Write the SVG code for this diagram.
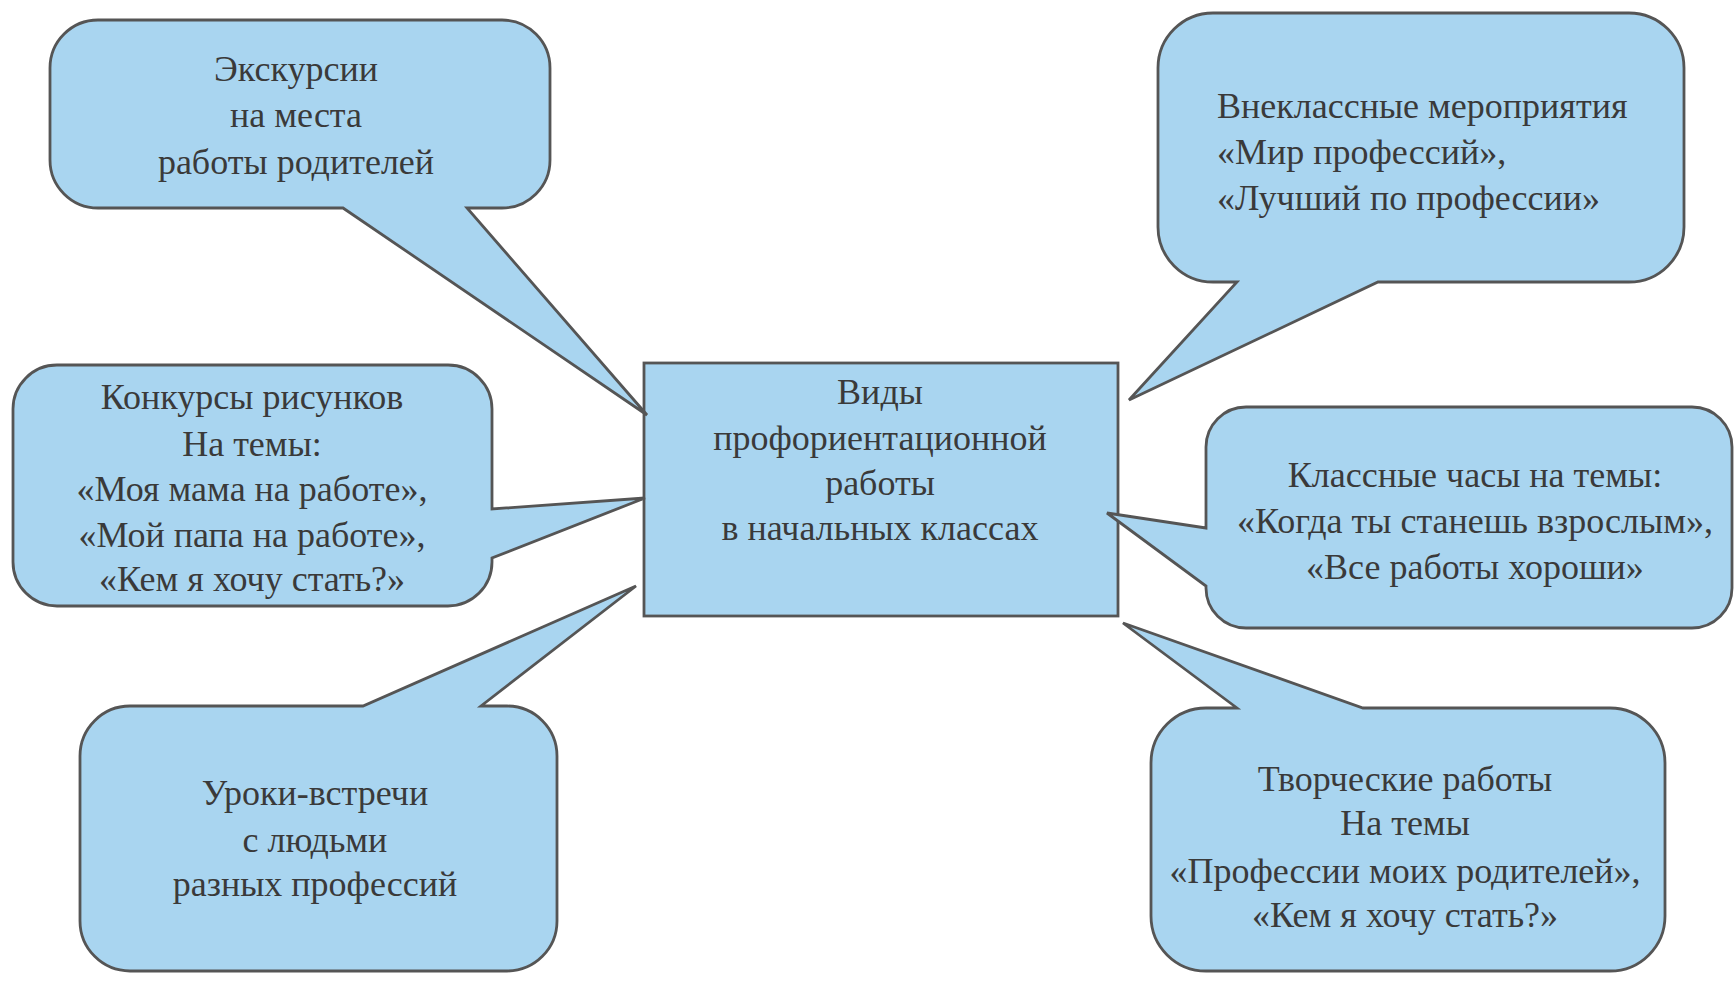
<svg xmlns="http://www.w3.org/2000/svg" width="1735" height="985" viewBox="0 0 1735 985">
<style>
.shape{fill:#a9d5f0;stroke:#555;stroke-width:2.8;stroke-linejoin:miter}
.t{font-family:"Liberation Serif","Times New Roman",serif;font-size:36px;fill:#3a3a3a}
.c{text-anchor:middle}
</style>
<rect width="1735" height="985" fill="#ffffff"/>
<g id="center">
<rect class="shape" x="644" y="363" width="474" height="253"/>
<text class="t c" x="880" y="404">Виды</text>
<text class="t c" x="880" y="450">профориентационной</text>
<text class="t c" x="880" y="495">работы</text>
<text class="t c" x="880" y="540">в начальных классах</text>
</g>
<g id="excursions">
<path class="shape" d="M98,20 H502 A48 48 0 0 1 550,68 V160 A48 48 0 0 1 502,208 H467 L647,415 L343,208 H98 A48 48 0 0 1 50,160 V68 A48 48 0 0 1 98,20 Z"/>
<text class="t c" x="296" y="81">Экскурсии</text>
<text class="t c" x="296" y="127">на места</text>
<text class="t c" x="296" y="174">работы родителей</text>
</g>
<g id="drawings">
<path class="shape" d="M57,365 H448 A44 44 0 0 1 492,409 V509 L645,498 L492,558 V562 A44 44 0 0 1 448,606 H57 A44 44 0 0 1 13,562 V409 A44 44 0 0 1 57,365 Z"/>
<text class="t c" x="252" y="409">Конкурсы рисунков</text>
<text class="t c" x="252" y="456">На темы:</text>
<text class="t c" x="252" y="501">«Моя мама на работе»,</text>
<text class="t c" x="252" y="547">«Мой папа на работе»,</text>
<text class="t c" x="252" y="591">«Кем я хочу стать?»</text>
</g>
<g id="meetings">
<path class="shape" d="M130,706 H363 L636,586 L481,706 H507 A50 50 0 0 1 557,756 V921 A50 50 0 0 1 507,971 H130 A50 50 0 0 1 80,921 V756 A50 50 0 0 1 130,706 Z"/>
<text class="t c" x="315" y="805">Уроки-встречи</text>
<text class="t c" x="315" y="852">с людьми</text>
<text class="t c" x="315" y="896">разных профессий</text>
</g>
<g id="events">
<path class="shape" d="M1213,13 H1629 A55 55 0 0 1 1684,68 V227 A55 55 0 0 1 1629,282 H1378 L1129,400 L1237,282 H1213 A55 55 0 0 1 1158,227 V68 A55 55 0 0 1 1213,13 Z"/>
<text class="t" x="1217" y="118">Внеклассные мероприятия</text>
<text class="t" x="1217" y="164">«Мир профессий»,</text>
<text class="t" x="1217" y="210">«Лучший по профессии»</text>
</g>
<g id="classhours">
<path class="shape" d="M1246,407 H1692 A40 40 0 0 1 1732,447 V588 A40 40 0 0 1 1692,628 H1246 A40 40 0 0 1 1206,588 V586 L1107,513 L1206,528 V447 A40 40 0 0 1 1246,407 Z"/>
<text class="t c" x="1475" y="487">Классные часы на темы:</text>
<text class="t c" x="1475" y="533">«Когда ты станешь взрослым»,</text>
<text class="t c" x="1475" y="579">«Все работы хороши»</text>
</g>
<g id="creative">
<path class="shape" d="M1206,708 H1237 L1123,623 L1363,708 H1610 A55 55 0 0 1 1665,763 V916 A55 55 0 0 1 1610,971 H1206 A55 55 0 0 1 1151,916 V763 A55 55 0 0 1 1206,708 Z"/>
<text class="t c" x="1405" y="791">Творческие работы</text>
<text class="t c" x="1405" y="835">На темы</text>
<text class="t c" x="1405" y="883">«Профессии моих родителей»,</text>
<text class="t c" x="1405" y="927">«Кем я хочу стать?»</text>
</g>
<g id="connectors"/>
</svg>
